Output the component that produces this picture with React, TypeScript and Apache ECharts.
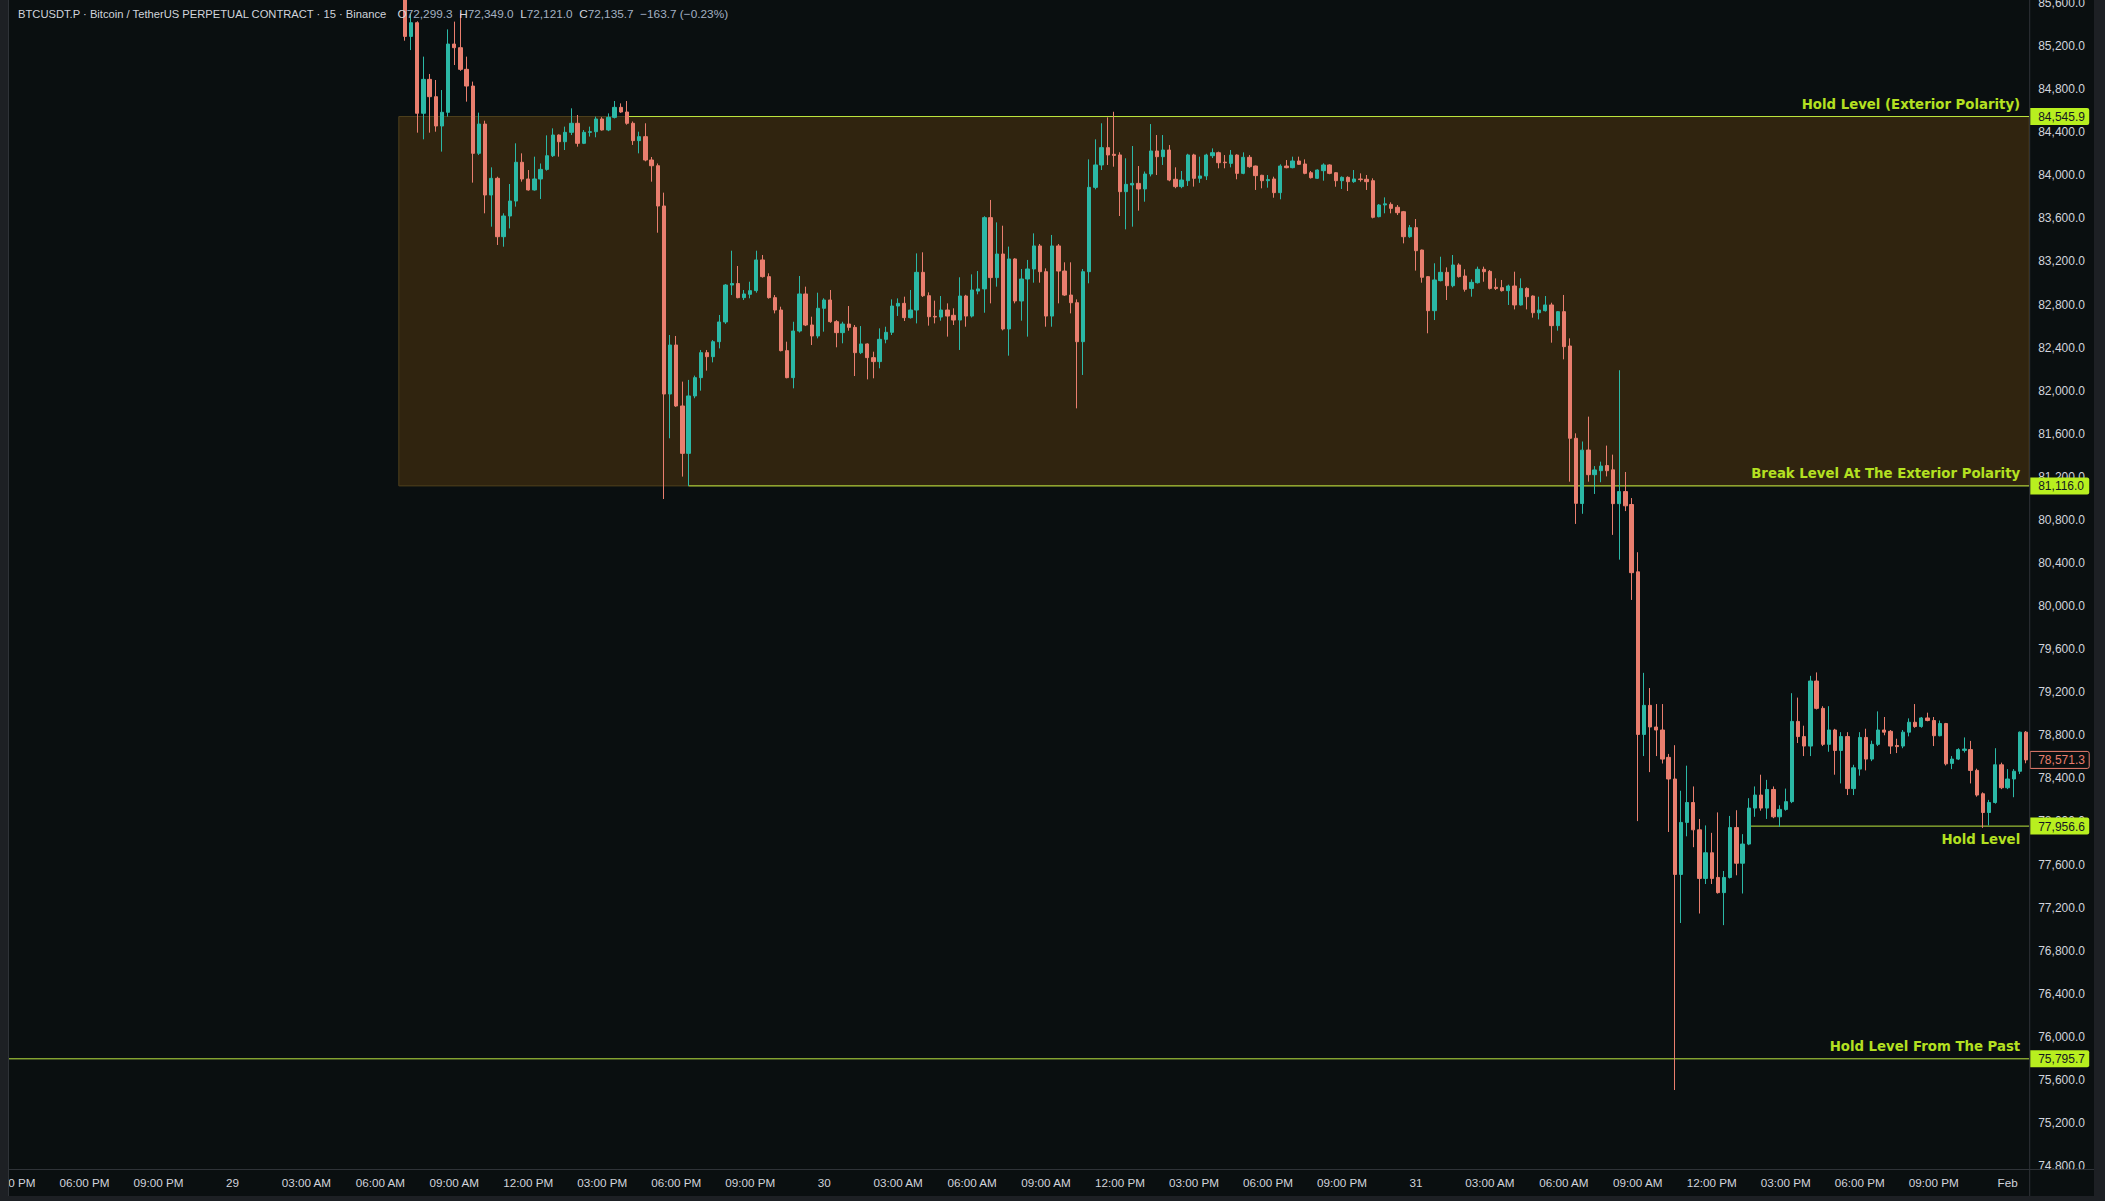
import React, { useEffect, useRef } from 'react';
import * as echarts from 'echarts';

// ---------- data ----------
const CATEGORY_COUNT = 328; // 15-minute slots from Jan 28 15:00 to Feb 1 00:45
const FIRST_CANDLE = 64; // Jan 29 07:00
const X_MIN = -0.5;
const X_MAX = CATEGORY_COUNT - 0.5;
const Y_MIN = 74772.6;
const Y_MAX = 85627.9;

const dayNames = ['Jan 28', 'Jan 29', 'Jan 30', 'Jan 31', 'Feb 1'];

const xTickLabels = [
  '03:00 PM', '06:00 PM', '09:00 PM', '29', '03:00 AM', '06:00 AM', '09:00 AM',
  '12:00 PM', '03:00 PM', '06:00 PM', '09:00 PM', '30', '03:00 AM', '06:00 AM',
  '09:00 AM', '12:00 PM', '03:00 PM', '06:00 PM', '09:00 PM', '31', '03:00 AM',
  '06:00 AM', '09:00 AM', '12:00 PM', '03:00 PM', '06:00 PM', '09:00 PM', 'Feb',
];
const X_TICK_STEP = 12;

const priceTicks = [
  74800, 75200, 75600, 76000, 76400, 76800, 77200, 77600, 78000, 78400, 78800,
  79200, 79600, 80000, 80400, 80800, 81200, 81600, 82000, 82400, 82800, 83200,
  83600, 84000, 84400, 84800, 85200, 85600,
];

// [open, close, low, high]
const candles: number[][] = [
  [85700, 85290, 85250, 85750], [85290, 85417, 85163, 85500], [85417, 84576, 84396, 85430],
  [84576, 84891, 84334, 85102], [84891, 84730, 84396, 84941], [84730, 84458, 84405, 84885],
  [84458, 84585, 84220, 84792], [84585, 85219, 84545, 85355], [85219, 85185, 85024, 85427],
  [85185, 84984, 84970, 85504], [84984, 84829, 84684, 85102], [84829, 84204, 83932, 84870],
  [84204, 84476, 84188, 84582], [84476, 83817, 83647, 84507], [83817, 83972, 83523, 84074],
  [83972, 83430, 83353, 83987], [83430, 83622, 83337, 83647], [83622, 83761, 83507, 83919],
  [83761, 84121, 83709, 84297], [84121, 83966, 83941, 84204], [83966, 83864, 83858, 84049],
  [83864, 83966, 83858, 84173], [83966, 84055, 83780, 84110], [84055, 84182, 84043, 84371],
  [84182, 84374, 84170, 84436], [84374, 84312, 84173, 84380], [84312, 84399, 84235, 84452],
  [84399, 84483, 84374, 84622], [84483, 84297, 84266, 84560], [84297, 84399, 84290, 84420],
  [84399, 84405, 84360, 84452], [84405, 84523, 84353, 84545], [84523, 84421, 84415, 84540],
  [84421, 84538, 84410, 84575], [84538, 84631, 84528, 84690], [84631, 84588, 84580, 84668],
  [84588, 84483, 84470, 84690], [84483, 84322, 84282, 84500], [84322, 84359, 84204, 84405],
  [84359, 84142, 84130, 84483], [84142, 84089, 83941, 84170], [84089, 83715, 83467, 84110],
  [83715, 81969, 80994, 83839], [81969, 82424, 81558, 82517], [82424, 81858, 81850, 82508],
  [81858, 81418, 81202, 82084], [81418, 81951, 81116, 82100], [81951, 82121, 81930, 82140],
  [82121, 82353, 82000, 82378], [82353, 82316, 82186, 82378], [82316, 82455, 82263, 82470],
  [82455, 82638, 82393, 82703], [82638, 82981, 82620, 82990], [82981, 82995, 82888, 83300],
  [82995, 82864, 82858, 83158], [82864, 82898, 82842, 82935], [82895, 82929, 82858, 83012],
  [82929, 83214, 82910, 83300], [83214, 83059, 83050, 83260], [83059, 82864, 82855, 83090],
  [82864, 82749, 82718, 82888], [82749, 82372, 82365, 82780], [82372, 82121, 82115, 82455],
  [82121, 82554, 82022, 82640], [82554, 82898, 82540, 83065], [82898, 82610, 82600, 82966],
  [82610, 82508, 82424, 82687], [82508, 82765, 82486, 82910], [82765, 82842, 82548, 82858],
  [82842, 82641, 82630, 82935], [82641, 82539, 82403, 82655], [82539, 82619, 82440, 82640],
  [82619, 82588, 82557, 82786], [82588, 82353, 82136, 82610], [82353, 82434, 82340, 82600],
  [82434, 82307, 82105, 82440], [82307, 82270, 82115, 82362], [82270, 82477, 82208, 82579],
  [82477, 82542, 82440, 82594], [82542, 82786, 82517, 82848], [82786, 82811, 82694, 82857],
  [82811, 82678, 82647, 82873], [82678, 82749, 82670, 82935], [82749, 83099, 82625, 83275],
  [83099, 82882, 82870, 83285], [82882, 82687, 82604, 82913], [82690, 82684, 82625, 82836],
  [82684, 82749, 82650, 82879], [82749, 82693, 82502, 82811], [82700, 82656, 82610, 82765],
  [82656, 82879, 82378, 83053], [82879, 82693, 82594, 82890], [82693, 82935, 82680, 83080],
  [82925, 82945, 82895, 83111], [82945, 83607, 82724, 83620], [83607, 83050, 82811, 83771],
  [83050, 83269, 82966, 83563], [83269, 82573, 82560, 83532], [82573, 83223, 82325, 83338],
  [83223, 82833, 82811, 83230], [82833, 83037, 82650, 83130], [83037, 83130, 82502, 83214],
  [83130, 83344, 83003, 83461], [83344, 83105, 83003, 83362], [83105, 82693, 82594, 83136],
  [82693, 83344, 82594, 83446], [83344, 83111, 82811, 83362], [83111, 82888, 82880, 83192],
  [82888, 82817, 82718, 83192], [82817, 82455, 81836, 82848], [82455, 83105, 82146, 83130],
  [83105, 83888, 82997, 84148], [83888, 84096, 83870, 84334], [84096, 84257, 84049, 84483],
  [84257, 84189, 84096, 84538], [84195, 84185, 84080, 84590], [84189, 83848, 83622, 84214],
  [83848, 83916, 83498, 84158], [83910, 83925, 83523, 84272], [83925, 83873, 83672, 84086],
  [83873, 84012, 83755, 84035], [84012, 84226, 83990, 84476], [84226, 84173, 84003, 84374],
  [84173, 84235, 84096, 84374], [84235, 83956, 83945, 84281], [83963, 83895, 83880, 84074],
  [83895, 83956, 83880, 84040], [83950, 84189, 83901, 84200], [84189, 83972, 83895, 84200],
  [83972, 83994, 83930, 84173], [83994, 84188, 83956, 84200], [84182, 84210, 84160, 84250],
  [84210, 84117, 84065, 84220], [84122, 84117, 84065, 84188], [84111, 84188, 84074, 84235],
  [84188, 84018, 83963, 84195], [84018, 84167, 84010, 84213], [84167, 84080, 84070, 84188],
  [84086, 83997, 83864, 84090], [84000, 83950, 83879, 84005], [83950, 83960, 83885, 84003],
  [83966, 83839, 83792, 83987], [83839, 84086, 83777, 84102], [84086, 84071, 84065, 84142],
  [84071, 84133, 84065, 84173], [84133, 84102, 84096, 84173], [84105, 84018, 84010, 84148],
  [84024, 83978, 83970, 84040], [83972, 84049, 83966, 84055], [84043, 84096, 83950, 84111],
  [84096, 84018, 84010, 84102], [84024, 83950, 83894, 84030], [83950, 83981, 83873, 83990],
  [83981, 83941, 83854, 83990], [83941, 83966, 83930, 84049], [83966, 83960, 83941, 84018],
  [83963, 83941, 83864, 84003], [83950, 83610, 83600, 83972], [83616, 83724, 83610, 83733],
  [83725, 83735, 83647, 83795], [83730, 83693, 83647, 83749], [83703, 83653, 83631, 83724],
  [83662, 83430, 83368, 83669], [83430, 83514, 83420, 83538], [83514, 83300, 83115, 83594],
  [83306, 83053, 83003, 83310], [83059, 82743, 82533, 83065], [82743, 83028, 82656, 83183],
  [83022, 83099, 83015, 83244], [83099, 82975, 82842, 83145], [82975, 83167, 82960, 83260],
  [83167, 83059, 83050, 83183], [83065, 82941, 82920, 83127], [82950, 83006, 82873, 83034],
  [83003, 83127, 82995, 83152], [83127, 83105, 83012, 83152], [83108, 82950, 82940, 83120],
  [82960, 82950, 82935, 83043], [82957, 82929, 82920, 83028], [82929, 82972, 82796, 82985],
  [82972, 82796, 82755, 83105], [82796, 82950, 82790, 83043], [82950, 82873, 82755, 82960],
  [82879, 82724, 82678, 82885], [82724, 82749, 82662, 82873], [82743, 82796, 82735, 82879],
  [82796, 82604, 82446, 82817], [82604, 82734, 82557, 82740], [82734, 82409, 82291, 82889],
  [82415, 81558, 81155, 82486], [81558, 80954, 80763, 81604], [80952, 81448, 80857, 81528],
  [81449, 81220, 81155, 81759], [81220, 81264, 81041, 81300], [81257, 81300, 81150, 81341],
  [81305, 81257, 81204, 81490], [81265, 80951, 80661, 81406], [80951, 81063, 80431, 82190],
  [81063, 80931, 80882, 81245], [80943, 80310, 80057, 81003], [80318, 78808, 78003, 80500],
  [78808, 79078, 78607, 79380], [79078, 78877, 78458, 79239], [78877, 78849, 78607, 79090],
  [78849, 78579, 78538, 79090], [78595, 78394, 77902, 78627], [78394, 77508, 75506, 78708],
  [77508, 77991, 77057, 78285], [77991, 78176, 77862, 78518], [78176, 77922, 77761, 78325],
  [77922, 77471, 77145, 78023], [77471, 77709, 77419, 77963], [77709, 77471, 77419, 77894],
  [77480, 77339, 77330, 78084], [77339, 77480, 77037, 77540], [77480, 77943, 77470, 78051],
  [77943, 77612, 77500, 78104], [77612, 77790, 77331, 77882], [77790, 78124, 77780, 78216],
  [78124, 78245, 78043, 78325], [78245, 78124, 78100, 78434], [78124, 78297, 78023, 78386],
  [78297, 78043, 78030, 78325], [78043, 78112, 77950, 78150], [78112, 78184, 78100, 78305],
  [78184, 78929, 78170, 79191], [78929, 78788, 78728, 79150], [78788, 78700, 78607, 78889],
  [78700, 79304, 78607, 79352], [79304, 79050, 79040, 79384], [79050, 78716, 78700, 79070],
  [78716, 78849, 78647, 79070], [78849, 78659, 78434, 78860], [78659, 78788, 78353, 78829],
  [78788, 78305, 78245, 78829], [78305, 78498, 78245, 78526], [78486, 78780, 78425, 78829],
  [78780, 78579, 78474, 78861], [78579, 78716, 78560, 78750], [78716, 78849, 78700, 79022],
  [78849, 78829, 78800, 78970], [78837, 78700, 78627, 78849], [78705, 78695, 78635, 78768],
  [78700, 78829, 78680, 78849], [78829, 78921, 78790, 78957], [78921, 78881, 78870, 79090],
  [78881, 78961, 78870, 78970], [78961, 78937, 78930, 79010], [78937, 78796, 78700, 78970],
  [78796, 78909, 78790, 78937], [78909, 78535, 78520, 78915], [78539, 78579, 78486, 78607],
  [78579, 78667, 78570, 78680], [78660, 78672, 78640, 78780], [78667, 78474, 78353, 78748],
  [78474, 78245, 78230, 78490], [78257, 78083, 77940, 78270], [78083, 78176, 77963, 78200],
  [78176, 78526, 78165, 78680], [78526, 78313, 78300, 78546], [78313, 78394, 78300, 78486],
  [78394, 78466, 78225, 78486], [78466, 78829, 78440, 78835], [78829, 78571.3, 78540, 78840],
];

// horizontal levels (ray start is a candle-slot position)
const levelNames = [
  'Hold Level (Exterior Polarity)',
  'Break Level At The Exterior Polarity',
  'Hold Level',
  'Hold Level From The Past',
];
const levelPrices = [84545.9, 81116.0, 77956.6, 75795.7];
const levelStarts = [100.3, 110, 282.3, -0.5];
const levelLabelBelow = [0, 0, 1, 0];

// shaded zone [fromSlot, toSlot, top, bottom]
const zone = [63.0, X_MAX, 84545.9, 81116.0];

const headerTitle = 'BTCUSDT.P · Bitcoin / TetherUS PERPETUAL CONTRACT · 15 · Binance';
const headerOHLC = [
  ['O', '72,299.3'], ['H', '72,349.0'], ['L', '72,121.0'], ['C', '72,135.7'],
];
const headerChange = '−163.7 (−0.23%)';

// ---------- styles ----------
const UP = '#2bb8a6';
const DOWN = '#e97e6e';
const BG = '#0a0f10';
const ZONE_FILL = '#30240f';
const ZONE_EDGE = '#4e401d';
const LEVEL_LINE = '#bde63f';
const LEVEL_TEXT = '#b4e021';
const LEVEL_BOX = '#b8ef1f';
const AXIS_TEXT = '#d1d4dc';
const SEP = '#2f3338';
const FRAME = '#1d2024';
const W = 2105;
const H = 1201;
const GRID_LEFT = 7.4;
const GRID_RIGHT = 75.8;
const GRID_BOTTOM = 32;
const AXIS_X = W - GRID_RIGHT;
const AXIS_Y = H - GRID_BOTTOM;

const fmtPrice = (v: number) =>
  v.toLocaleString('en-US', { minimumFractionDigits: 1, maximumFractionDigits: 1 });

function buildCategories(): string[] {
  const out: string[] = [];
  for (let k = 0; k < CATEGORY_COUNT; k++) {
    const minutes = (15 * 60) + k * 15;
    const day = Math.floor(minutes / 1440);
    const m = minutes % 1440;
    const hh = String(Math.floor(m / 60)).padStart(2, '0');
    const mm = String(m % 60).padStart(2, '0');
    out.push(`${dayNames[day]} ${hh}:${mm}`);
  }
  return out;
}

export default function App() {
  const ref = useRef<HTMLDivElement>(null);

  useEffect(() => {
    document.body.style.margin = '0';
    document.body.style.overflow = 'hidden';
    if (!ref.current) return;
    const chart = echarts.init(ref.current, undefined, { renderer: 'svg' });

    const categories = buildCategories();
    const candleData: any[] = categories.map((_, k) => {
      const c = candles[k - FIRST_CANDLE];
      return c ? c : '-';
    });
    const lastPrice = candles[candles.length - 1][1];

    const rich: any = {
      l: { fill: AXIS_TEXT, font: '11.8px "Liberation Sans"' },
      v: { fill: '#a3b0c2', font: '11.8px "Liberation Sans"' },
    };
    const ohlcText =
      headerOHLC.map(([k, v]) => `{l|${k}}{v|${v}}`).join('  ') + `  {v|${headerChange}}`;

    const option: any = {
      animation: false,
      backgroundColor: BG,
      grid: {
        left: GRID_LEFT,
        right: GRID_RIGHT,
        top: 0,
        bottom: GRID_BOTTOM,
        containLabel: false,
        outerBoundsMode: 'none',
      },
      xAxis: [
        {
          type: 'category',
          data: categories,
          boundaryGap: true,
          axisLine: { show: false },
          axisTick: { show: false },
          splitLine: { show: false },
          axisLabel: {
            interval: (idx: number) => idx % X_TICK_STEP === 0,
            formatter: (_v: string, idx: number) => xTickLabels[Math.round(idx / X_TICK_STEP)] ?? '',
            color: AXIS_TEXT,
            fontSize: 11.7,
            fontFamily: 'Liberation Sans',
            margin: 7,
            hideOverlap: false,
          },
        },
        { type: 'value', min: X_MIN, max: X_MAX, show: false },
      ],
      yAxis: {
        type: 'value',
        position: 'right',
        min: Y_MIN,
        max: Y_MAX,
        axisLine: { show: false },
        axisTick: { show: false },
        splitLine: { show: false },
        axisLabel: {
          customValues: priceTicks,
          formatter: (v: number) => fmtPrice(v),
          color: AXIS_TEXT,
          fontSize: 12,
          fontFamily: 'Liberation Sans',
          margin: 9,
          showMinLabel: true,
          showMaxLabel: true,
        },
      },
      series: [
        {
          type: 'custom',
          name: 'zone',
          xAxisIndex: 1,
          yAxisIndex: 0,
          z: 1,
          silent: true,
          data: [zone],
          renderItem: (_p: any, api: any) => {
            const a = api.coord([api.value(0), api.value(2)]);
            const b = api.coord([api.value(1), api.value(3)]);
            return {
              type: 'rect',
              shape: { x: a[0], y: a[1], width: b[0] - a[0], height: b[1] - a[1] },
              style: { fill: ZONE_FILL, stroke: ZONE_EDGE, lineWidth: 1 },
            };
          },
        },
        {
          type: 'custom',
          name: 'levels',
          xAxisIndex: 1,
          yAxisIndex: 0,
          z: 2,
          silent: true,
          clip: false,
          data: levelPrices.map((p, k) => [levelStarts[k], p, k]),
          renderItem: (_p: any, api: any) => {
            const k = api.value(2);
            const s = api.coord([api.value(0), api.value(1)]);
            const e = api.coord([X_MAX, api.value(1)]);
            const below = levelLabelBelow[k] === 1;
            return {
              type: 'group',
              children: [
                {
                  type: 'line',
                  shape: { x1: s[0], y1: s[1], x2: e[0], y2: e[1] },
                  style: { stroke: LEVEL_LINE, lineWidth: 1 },
                },
                {
                  type: 'text',
                  x: e[0] - 9,
                  y: e[1] + (below ? 13.5 : -12.5),
                  style: {
                    text: levelNames[k],
                    fill: LEVEL_TEXT,
                    font: 'bold 13.3px "DejaVu Sans"',
                    align: 'right',
                    verticalAlign: 'middle',
                  },
                },
              ],
            };
          },
        },
        {
          type: 'candlestick',
          name: 'BTCUSDT.P',
          xAxisIndex: 0,
          yAxisIndex: 0,
          z: 3,
          data: candleData,
          barWidth: 3.8,
          itemStyle: {
            color: UP,
            color0: DOWN,
            borderColor: UP,
            borderColor0: DOWN,
            borderWidth: 1,
          },
        },
        {
          type: 'custom',
          name: 'priceTags',
          xAxisIndex: 1,
          yAxisIndex: 0,
          z: 10,
          silent: true,
          clip: false,
          data: [...levelPrices.map((p) => [X_MAX, p, 0]), [X_MAX, lastPrice, 1]],
          renderItem: (_p: any, api: any) => {
            const c = api.coord([api.value(0), api.value(1)]);
            const isLast = api.value(2) === 1;
            const price = api.value(1);
            return {
              type: 'group',
              children: [
                {
                  type: 'rect',
                  shape: { x: c[0] + 1, y: c[1] - 8.5, width: 59, height: 17, r: [0, 2, 2, 0] },
                  style: isLast
                    ? { fill: BG, stroke: DOWN, lineWidth: 1 }
                    : { fill: LEVEL_BOX },
                },
                {
                  type: 'text',
                  x: c[0] + 9,
                  y: c[1] + 0.5,
                  style: {
                    text: fmtPrice(price),
                    fill: isLast ? DOWN : '#131722',
                    font: '12px "Liberation Sans"',
                    align: 'left',
                    verticalAlign: 'middle',
                  },
                },
              ],
            };
          },
        },
      ],
      graphic: [
        { type: 'rect', shape: { x: 0, y: 0, width: 8, height: H }, style: { fill: FRAME }, z: 100 },
        { type: 'rect', shape: { x: W - 11, y: 0, width: 11, height: H }, style: { fill: FRAME }, z: 100 },
        { type: 'rect', shape: { x: 0, y: H - 5, width: W, height: 5 }, style: { fill: FRAME }, z: 100 },
        {
          type: 'rect',
          shape: { x: AXIS_X + 0.5, y: AXIS_Y + 0.5, width: W - 11 - AXIS_X, height: H - 5 - AXIS_Y },
          style: { fill: BG },
          z: 99,
        },
        {
          type: 'line',
          shape: { x1: 8, y1: AXIS_Y + 0.5, x2: W - 11, y2: AXIS_Y + 0.5 },
          style: { stroke: SEP, lineWidth: 1 },
          z: 101,
        },
        {
          type: 'line',
          shape: { x1: AXIS_X + 0.5, y1: 0, x2: AXIS_X + 0.5, y2: H - 5 },
          style: { stroke: SEP, lineWidth: 1 },
          z: 101,
        },
        {
          type: 'line',
          shape: { x1: 8.5, y1: 0, x2: 8.5, y2: H - 5 },
          style: { stroke: SEP, lineWidth: 1 },
          z: 101,
        },
        {
          type: 'text',
          x: 18,
          y: 14,
          style: {
            text: headerTitle,
            fill: AXIS_TEXT,
            font: '11.2px "Liberation Sans"',
            verticalAlign: 'middle',
          },
          z: 100,
        },
        {
          type: 'text',
          x: 397.5,
          y: 14,
          style: {
            text: ohlcText,
            rich,
            fill: AXIS_TEXT,
            font: '11.8px "Liberation Sans"',
            verticalAlign: 'middle',
          },
          z: 100,
        },
      ],
    };

    chart.setOption(option);
    return () => chart.dispose();
  }, []);

  return <div ref={ref} style={{ width: W, height: H }} />;
}
